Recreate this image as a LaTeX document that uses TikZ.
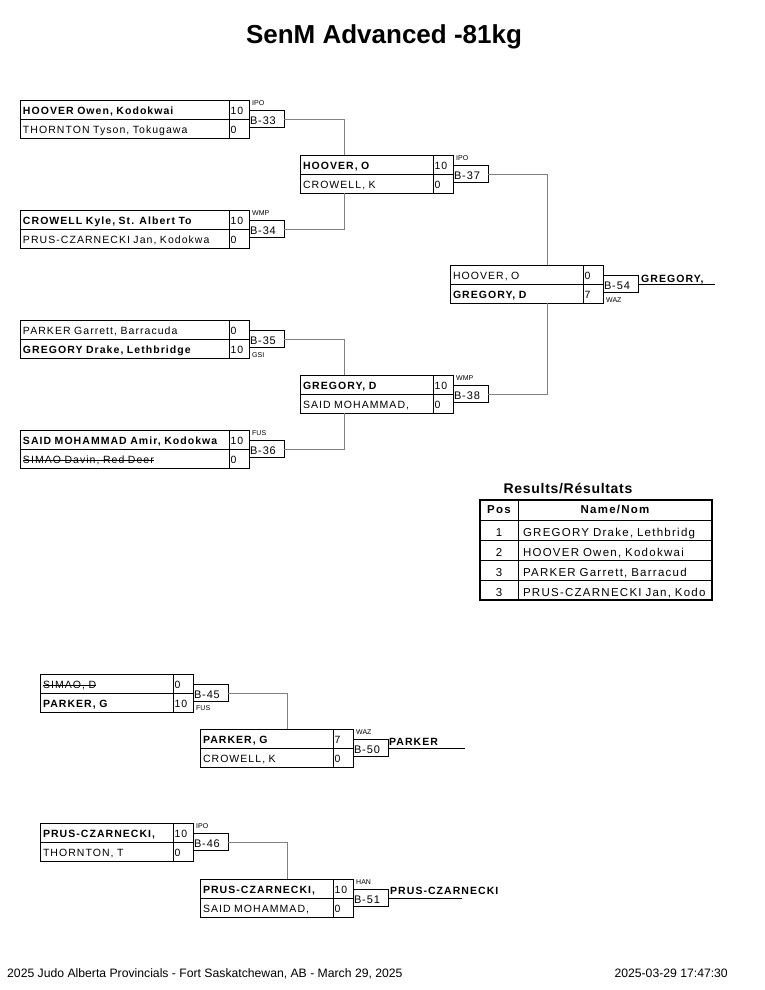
\documentclass[tikz,border=0pt]{standalone}
\usepackage{fontspec}
\setmainfont{Liberation Sans}
\newfontfamily\bxf[LetterSpace=10,WordSpace=1.3]{Liberation Sans}
\newfontfamily\btf[LetterSpace=8]{Liberation Sans}
\newfontfamily\tbf[LetterSpace=11]{Liberation Sans}
\newfontfamily\rtf[LetterSpace=5]{Liberation Sans}
\newfontfamily\lbf{Liberation Sans}
\newsavebox\strkbox
\newcommand\strk[1]{\sbox\strkbox{#1}\rlap{\usebox\strkbox}\rule[3.4pt]{\wd\strkbox}{0.6pt}}
\tikzset{
  ncell/.style={draw, line width=0.8pt, rectangle, inner xsep=3pt, inner ysep=0pt, outer sep=0pt,
    minimum height=19pt, text height=10.5pt, text depth=0pt, align=left,
    anchor=north west, font=\bxf\fontsize{10.5}{12}\selectfont},
  wideN/.style={ncell, text width=203pt},
  narN/.style={ncell, text width=127pt},
  scell/.style={ncell, inner xsep=1.5pt, text width=17pt},
  bout/.style={draw, line width=0.8pt, rectangle, anchor=west, inner xsep=1pt, inner ysep=0pt, outer sep=0pt,
    minimum height=17pt, text width=33pt, text height=10pt, text depth=0pt, align=left,
    font=\btf\fontsize{11}{12}\selectfont},
  lbl/.style={inner sep=0pt, anchor=base west, font=\lbf\fontsize{7}{8}\selectfont},
  conn/.style={draw=gray, line width=0.8pt},
  wline/.style={draw=black, line width=0.9pt},
  wtxt/.style={inner sep=0pt, anchor=base west, font=\bxf\fontsize{10.5}{12}\selectfont\bfseries},
  tcell/.style={draw, line width=0.7pt, rectangle, inner ysep=0pt, outer sep=0pt, minimum height=20pt,
    anchor=north west, text height=12pt, text depth=0pt, font=\tbf\fontsize{11.5}{13}\selectfont},
  tpos/.style={tcell, minimum width=38pt, inner xsep=0pt},
  tname/.style={tcell, inner xsep=5pt, text width=184pt, align=left},
  thead/.style={text height=7pt, font=\tbf\fontsize{11.5}{13}\selectfont\bfseries},
  foot/.style={inner sep=0pt, font=\lbf\fontsize{12.2}{14}\selectfont},
}
\newcommand\matchpair[8]{%
  \node[#4] (#1na) at (#2,#3) {#5};
  \node[scell] (#1sa) at (#1na.north east) {#6};
  \node[#4] (#1nb) at (#1na.south west) {#7};
  \node[scell] (#1sb) at (#1nb.north east) {#8};
}
\begin{document}
\begin{tikzpicture}[x=1pt,y=-1pt]
\useasboundingbox[fill=white] (0,0) rectangle (765,990);

\node[anchor=base, inner sep=0pt, font=\fontsize{26}{30}\selectfont\bfseries] (title) at (384,44) {SenM Advanced -81kg};

% main bracket
\matchpair{m1}{20}{100}{wideN}{\textbf{HOOVER Owen, Kodokwai}}{10}{THORNTON Tyson, Tokugawa}{0}
\matchpair{m2}{20}{210}{wideN}{\textbf{CROWELL Kyle, St. Albert To}}{10}{PRUS-CZARNECKI Jan, Kodokwa}{0}
\matchpair{m3}{20}{320}{wideN}{PARKER Garrett, Barracuda}{0}{\textbf{GREGORY Drake, Lethbridge}}{10}
\matchpair{m4}{20}{430}{wideN}{\textbf{SAID MOHAMMAD Amir, Kodokwa}}{10}{\strk{SIMAO Davin, Red Deer}}{0}
\matchpair{m5}{300}{155}{narN}{\textbf{HOOVER, O}}{10}{CROWELL, K}{0}
\matchpair{m6}{300}{375}{narN}{\textbf{GREGORY, D}}{10}{SAID MOHAMMAD,}{0}
\matchpair{m7}{450}{265}{narN}{HOOVER, O}{0}{\textbf{GREGORY, D}}{7}
% repechage
\matchpair{m8}{40}{674}{narN}{\strk{SIMAO, D}}{0}{\textbf{PARKER, G}}{10}
\matchpair{m9}{200}{729}{narN}{\textbf{PARKER, G}}{7}{CROWELL, K}{0}
\matchpair{m10}{40}{823}{narN}{\textbf{PRUS-CZARNECKI,}}{10}{THORNTON, T}{0}
\matchpair{m11}{200}{879}{narN}{\textbf{PRUS-CZARNECKI,}}{10}{SAID MOHAMMAD,}{0}

% bout boxes
\node[bout] (b33) at (m1sa.south east) {B-33};
\node[bout] (b34) at (m2sa.south east) {B-34};
\node[bout] (b35) at (m3sa.south east) {B-35};
\node[bout] (b36) at (m4sa.south east) {B-36};
\node[bout] (b37) at (m5sa.south east) {B-37};
\node[bout] (b38) at (m6sa.south east) {B-38};
\node[bout] (b54) at (m7sa.south east) {B-54};
\node[bout] (b45) at (m8sa.south east) {B-45};
\node[bout] (b50) at (m9sa.south east) {B-50};
\node[bout] (b46) at (m10sa.south east) {B-46};
\node[bout] (b51) at (m11sa.south east) {B-51};

% score labels
\node[lbl] (l33) at ([xshift=3pt,yshift=14pt]m1sa.south east) {IPO};
\node[lbl] (l34) at ([xshift=3pt,yshift=14pt]m2sa.south east) {WMP};
\node[lbl] (l35) at ([xshift=3pt,yshift=-18pt]m3sa.south east) {GSI};
\node[lbl] (l36) at ([xshift=3pt,yshift=14pt]m4sa.south east) {FUS};
\node[lbl] (l37) at ([xshift=3pt,yshift=14pt]m5sa.south east) {IPO};
\node[lbl] (l38) at ([xshift=3pt,yshift=14pt]m6sa.south east) {WMP};
\node[lbl] (l54) at ([xshift=3pt,yshift=-18pt]m7sa.south east) {WAZ};
\node[lbl] (l45) at ([xshift=3pt,yshift=-17pt]m8sa.south east) {FUS};
\node[lbl] (l50) at ([xshift=3pt,yshift=14pt]m9sa.south east) {WAZ};
\node[lbl] (l46) at ([xshift=3pt,yshift=14pt]m10sa.south east) {IPO};
\node[lbl] (l51) at ([xshift=3pt,yshift=14pt]m11sa.south east) {HAN};

% connectors
\coordinate (c1) at (344,0);
\coordinate (c2) at (547,0);
\coordinate (c3) at (287,0);
\draw[conn] (b33.east) -| (m5na.north -| c1);
\draw[conn] (b34.east) -| (m5nb.south -| c1);
\draw[conn] (b35.east) -| (m6na.north -| c1);
\draw[conn] (b36.east) -| (m6nb.south -| c1);
\draw[conn] (b37.east) -| (m7na.north -| c2);
\draw[conn] (b38.east) -| (m7nb.south -| c2);
\draw[conn] (b45.east) -| (m9na.north -| c3);
\draw[conn] (b46.east) -| (m11na.north -| c3);

% winners
\coordinate (e54) at ([xshift=77pt]b54.east);
\coordinate (e50) at ([xshift=77pt]b50.east);
\coordinate (e51) at ([xshift=74pt]b51.east);
\draw[wline] (b54.east) -- (e54);
\draw[wline] (b50.east) -- (e50);
\draw[wline] (b51.east) -- (e51);
\node[wtxt] (t54) at ([xshift=3pt,yshift=2pt]b54.east) {GREGORY,};
\node[wtxt] (t50) at ([xshift=1pt,yshift=3pt]b50.east) {PARKER};
\node[wtxt] (t51) at ([xshift=2pt,yshift=4pt]b51.east) {PRUS-CZARNECKI};

% results table
\node[anchor=base, inner sep=0pt, font=\rtf\fontsize{14}{16}\selectfont\bfseries] (rtitle) at (568,493) {Results/Résultats};
\node[tpos, thead] (h1) at (480,500) {Pos};
\node[tcell, thead, minimum width=194pt, inner xsep=0pt] (h2) at (h1.north east) {Name/Nom};
\node[tpos] (p1) at (h1.south west) {1};
\node[tname] (n1) at (p1.north east) {GREGORY Drake, Lethbridg};
\node[tpos] (p2) at (p1.south west) {2};
\node[tname] (n2) at (p2.north east) {HOOVER Owen, Kodokwai};
\node[tpos] (p3) at (p2.south west) {3};
\node[tname] (n3) at (p3.north east) {PARKER Garrett, Barracud};
\node[tpos] (p4) at (p3.south west) {3};
\node[tname] (n4) at (p4.north east) {PRUS-CZARNECKI Jan, Kodo};
\draw[line width=1.2pt] (h1.north west) rectangle (n4.south east);

% footer
\node[foot, anchor=base west] (f1) at (7,977) {2025 Judo Alberta Provincials - Fort Saskatchewan, AB - March 29, 2025};
\node[foot, anchor=base east] (f2) at (728,977) {2025-03-29 17:47:30};
\end{tikzpicture}
\end{document}
